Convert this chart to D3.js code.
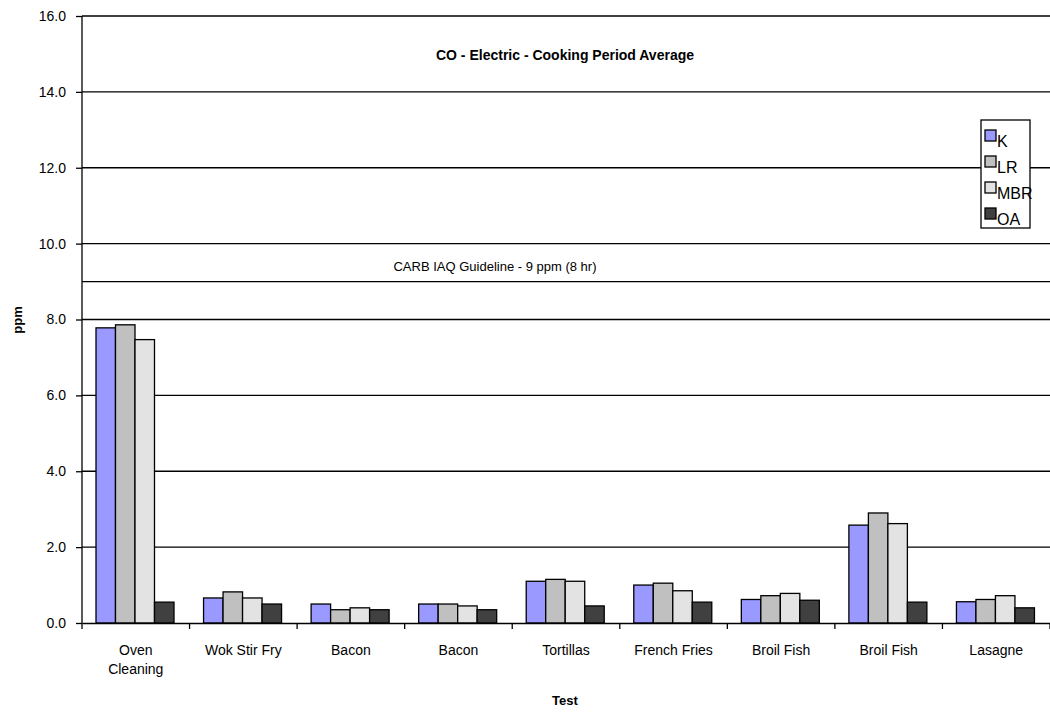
<!DOCTYPE html>
<html><head><meta charset="utf-8">
<script src="https://cdn.jsdelivr.net/npm/d3@7"></script>
<style>body{margin:0;background:#fff;font-family:"Liberation Sans",Arial,sans-serif}</style>
</head><body><svg id="c" width="1050" height="713"></svg>
<script>
var tests = ["Oven\nCleaning","Wok Stir Fry","Bacon","Bacon","Tortillas","French Fries","Broil Fish","Broil Fish","Lasagne"];
var seriesNames = ["K","LR","MBR","OA"];
var colors = ["#9999ff","#c0c0c0","#e3e3e3","#404040"];
var K   = [7.78,0.66,0.5,0.5,1.1,1.0,0.62,2.58,0.56];
var LR  = [7.86,0.82,0.35,0.5,1.15,1.05,0.72,2.9,0.62];
var MBR = [7.47,0.66,0.4,0.45,1.1,0.85,0.78,2.62,0.72];
var OA  = [0.55,0.5,0.35,0.35,0.45,0.55,0.6,0.55,0.4];
var yTicks = [0,2,4,6,8,10,12,14,16];
var guideline = 9;
var series = [K,LR,MBR,OA];

var svg = d3.select("#c");
var m = {l:82, r:0, t:16, b:90};
var W = 1050, H = 713;
var x = d3.scaleBand().domain(d3.range(tests.length)).range([m.l, W - m.r]);
var x1 = d3.scaleBand().domain(d3.range(4)).range([14, 14 + 78]);
var y = d3.scaleLinear().domain([0,16]).range([623, 16]);

// gridlines
svg.append("g").selectAll("line").data(yTicks.filter(function(d){return d>0;}).concat([guideline]))
   .enter().append("line")
   .attr("x1", m.l).attr("x2", W).attr("y1", function(d){return y(d);}).attr("y2", function(d){return y(d);})
   .attr("stroke","#000").attr("stroke-width",1.3);

svg.append("text").attr("x",495).attr("y",y(guideline)-11).attr("text-anchor","middle")
   .attr("font-size",13).text("CARB IAQ Guideline - 9 ppm (8 hr)");

// bars
var groups = svg.append("g").selectAll("g").data(tests).enter().append("g")
   .attr("transform", function(d,i){return "translate(" + x(i) + ",0)";});
groups.selectAll("rect").data(function(d,i){return series.map(function(s,j){return {j:j,v:s[i]};});})
   .enter().append("rect")
   .attr("x", function(d){return x1(d.j);}).attr("width", x1.bandwidth())
   .attr("y", function(d){return y(d.v);}).attr("height", function(d){return y(0)-y(d.v);})
   .attr("fill", function(d){return colors[d.j];}).attr("stroke","#000").attr("stroke-width",1.3);

// axes
var ya = svg.append("g").attr("transform","translate(" + m.l + ",0)")
   .call(d3.axisLeft(y).tickValues(yTicks).tickFormat(d3.format(".1f")).tickSize(6).tickPadding(10));
var xa = svg.append("g").attr("transform","translate(0," + y(0) + ")")
   .call(d3.axisBottom(x).tickFormat("").tickSize(0));
[ya, xa].forEach(function(a){
  a.selectAll("path,line").attr("stroke","#000").attr("stroke-width",1.3);
  a.selectAll("text").attr("font-size",14).attr("fill","#000").attr("font-family","Liberation Sans, Arial");
});
ya.select(".domain").attr("d","M0,16V623");
svg.append("g").selectAll("line").data(d3.range(tests.length+1)).enter().append("line")
   .attr("x1", function(i){return m.l + i*x.step();}).attr("x2", function(i){return m.l + i*x.step();})
   .attr("y1", y(0)).attr("y2", y(0)+6).attr("stroke","#000").attr("stroke-width",1.3);

svg.append("g").selectAll("text").data(tests).enter().append("text")
   .attr("x", function(d,i){return x(i)+x.bandwidth()/2;}).attr("y", 655)
   .attr("text-anchor","middle").attr("font-size",14)
   .each(function(d){
     var t = d3.select(this);
     d.split("\n").forEach(function(s,k){ t.append("tspan").attr("x", t.attr("x")).attr("dy", k ? 19 : 0).text(s); });
   });

svg.append("text").attr("x",565).attr("y",705).attr("text-anchor","middle").attr("font-size",13).attr("font-weight","bold").text("Test");
svg.append("text").attr("transform","translate(22,320) rotate(-90)").attr("text-anchor","middle").attr("font-size",13).attr("font-weight","bold").text("ppm");
svg.append("text").attr("x",565).attr("y",60).attr("text-anchor","middle").attr("font-size",14).attr("font-weight","bold").text("CO - Electric - Cooking Period Average");

// legend
var lg = svg.append("g").attr("transform","translate(981,120)");
lg.append("rect").attr("width",49).attr("height",108).attr("fill","#fff").attr("stroke","#000").attr("stroke-width",1.3);
var li = lg.selectAll("g").data(seriesNames).enter().append("g")
   .attr("transform", function(d,i){return "translate(4," + (10 + i*26) + ")";});
li.append("rect").attr("width",11).attr("height",11).attr("fill",function(d,i){return colors[i];}).attr("stroke","#000").attr("stroke-width",1.3);
li.append("text").attr("x",12).attr("y",17).attr("font-size",16).text(function(d){return d;});
</script></body></html>
